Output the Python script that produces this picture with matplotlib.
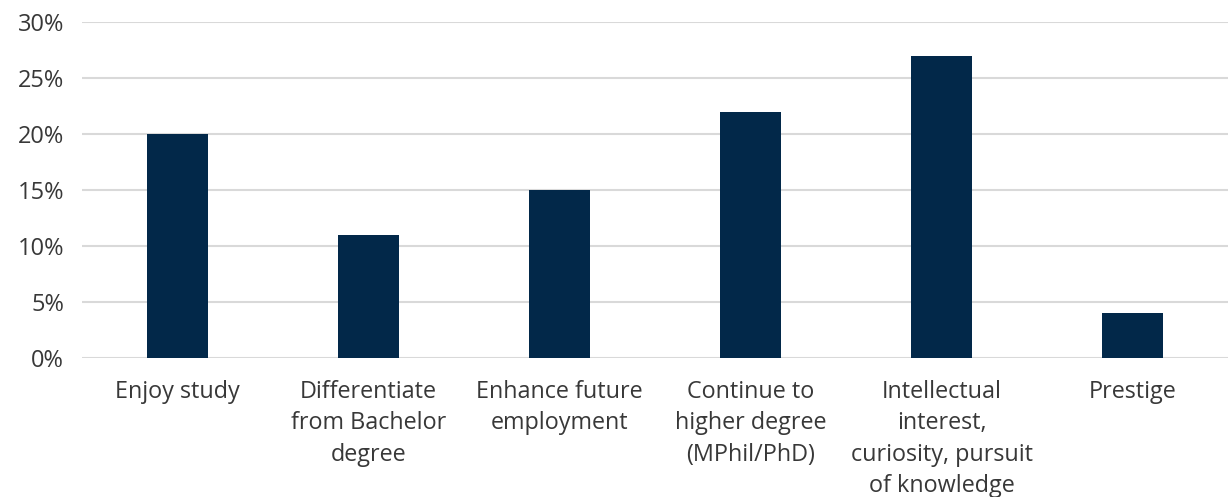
import matplotlib
matplotlib.use("Agg")
import matplotlib.pyplot as plt
from matplotlib.ticker import PercentFormatter

categorias = [
    "Enjoy study",
    "Differentiate\nfrom Bachelor\ndegree",
    "Enhance future\nemployment",
    "Continue to\nhigher degree\n(MPhil/PhD)",
    "Intellectual\ninterest,\ncuriosity, pursuit\nof knowledge",
    "Prestige",
]
percentuais = [20, 11, 15, 22, 27, 4]
yticks = [0, 5, 10, 15, 20, 25, 30]

AZUL, GRADE, TEXTO = "#022849", "#d9d9d9", "#383838"

plt.rcParams["font.family"] = ["Open Sans", "DejaVu Sans"]

fig = plt.figure(figsize=(12.28, 4.97), dpi=100)
ax = fig.add_axes([0.0668, 0.2797, 0.9332, 0.676])

x = range(len(categorias))
ax.bar(x, percentuais, width=0.32, color=AZUL, zorder=3)

ax.set_xlim(-0.5, len(categorias) - 0.5)
ax.set_ylim(0, 30)
ax.set_yticks(yticks)
ax.yaxis.set_major_formatter(PercentFormatter(decimals=0))
ax.grid(axis="y", color=GRADE, linewidth=1.5, zorder=0)
ax.set_axisbelow(True)

ax.set_xticks(list(x))
ax.set_xticklabels(categorias, fontsize=16.8, color=TEXTO, linespacing=1.4)
ax.tick_params(axis="x", length=0, pad=16)
ax.tick_params(axis="y", length=0, pad=13, labelsize=17, labelcolor=TEXTO)

for lado in ax.spines.values():
    lado.set_visible(False)

fig.savefig("out.png", dpi=100)
